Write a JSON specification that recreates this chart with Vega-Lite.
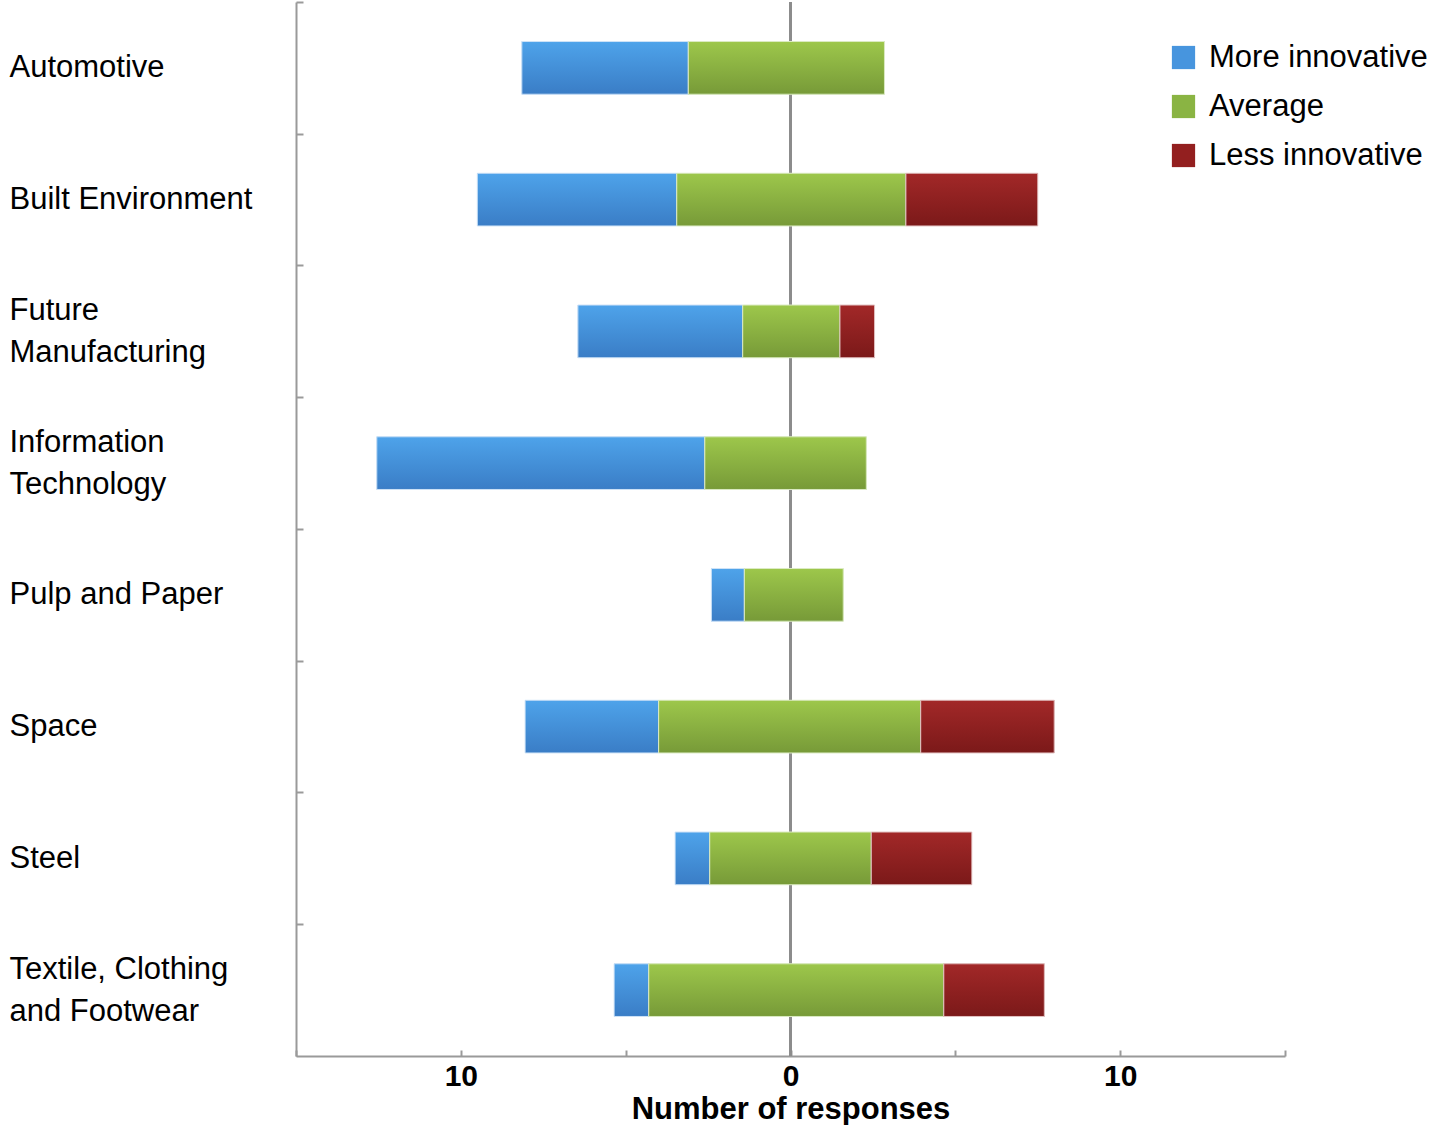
{
  "$schema": "https://vega.github.io/schema/vega-lite/v6.json",
  "autosize": {"type": "none"},
  "padding": {"left": 296, "top": 2, "right": 146, "bottom": 69},
  "width": 989,
  "height": 1054,
  "background": "white",
  "config": {
    "view": {"stroke": null},
    "font": "Liberation Sans"
  },
  "datasets": {
    "bars": [
      {"sector": "Automotive", "response": "More innovative", "start": -8.15, "end": -3.1},
      {"sector": "Automotive", "response": "Average", "start": -3.1, "end": 2.85},
      {"sector": "Built Environment", "response": "More innovative", "start": -9.5, "end": -3.45},
      {"sector": "Built Environment", "response": "Average", "start": -3.45, "end": 3.5},
      {"sector": "Built Environment", "response": "Less innovative", "start": 3.5, "end": 7.5},
      {"sector": "Future Manufacturing", "response": "More innovative", "start": -6.45, "end": -1.45},
      {"sector": "Future Manufacturing", "response": "Average", "start": -1.45, "end": 1.5},
      {"sector": "Future Manufacturing", "response": "Less innovative", "start": 1.5, "end": 2.55},
      {"sector": "Information Technology", "response": "More innovative", "start": -12.55, "end": -2.6},
      {"sector": "Information Technology", "response": "Average", "start": -2.6, "end": 2.3},
      {"sector": "Pulp and Paper", "response": "More innovative", "start": -2.4, "end": -1.4},
      {"sector": "Pulp and Paper", "response": "Average", "start": -1.4, "end": 1.6},
      {"sector": "Space", "response": "More innovative", "start": -8.05, "end": -4},
      {"sector": "Space", "response": "Average", "start": -4, "end": 3.95},
      {"sector": "Space", "response": "Less innovative", "start": 3.95, "end": 8},
      {"sector": "Steel", "response": "More innovative", "start": -3.5, "end": -2.45},
      {"sector": "Steel", "response": "Average", "start": -2.45, "end": 2.45},
      {"sector": "Steel", "response": "Less innovative", "start": 2.45, "end": 5.5},
      {"sector": "Textile, Clothing and Footwear", "response": "More innovative", "start": -5.35, "end": -4.3},
      {"sector": "Textile, Clothing and Footwear", "response": "Average", "start": -4.3, "end": 4.65},
      {"sector": "Textile, Clothing and Footwear", "response": "Less innovative", "start": 4.65, "end": 7.7}
    ]
  },
  "data": {"name": "bars"},
  "encoding": {
    "y": {
      "field": "sector",
      "type": "nominal",
      "sort": null,
      "scale": {"paddingInner": 0.6, "paddingOuter": 0.3},
      "axis": {
        "title": null,
        "domainColor": "#9a9a9a",
        "domainWidth": 2,
        "tickColor": "#9a9a9a",
        "tickWidth": 2,
        "tickSize": -7,
        "tickOffset": -65.9,
        "labelOffset": {
          "condition": {"test": "datum.value == 'Future Manufacturing' || datum.value == 'Information Technology' || datum.value == 'Textile, Clothing and Footwear'", "value": 44.9},
          "value": 65.9
        },
        "labelAlign": "left",
        "labelBaseline": "middle",
        "labelPadding": 294,
        "labelFontSize": 31,
        "labelColor": "#000000",
        "labelLineHeight": 42,
        "labelLimit": 0,
        "labelExpr": "datum.value == 'Future Manufacturing' ? ['Future', 'Manufacturing'] : datum.value == 'Information Technology' ? ['Information', 'Technology'] : datum.value == 'Textile, Clothing and Footwear' ? ['Textile, Clothing', 'and Footwear'] : datum.value"
      }
    },
    "x": {
      "field": "start",
      "type": "quantitative",
      "scale": {"domain": [-15, 15], "nice": false},
      "axis": {
        "title": "Number of responses",
        "values": [-15, -10, -5, 0, 5, 10, 15],
        "labelExpr": "(datum.value == 0 || abs(datum.value) == 10) ? format(abs(datum.value), 'd') : ''",
        "grid": false,
        "domainColor": "#9a9a9a",
        "domainWidth": 2,
        "tickColor": "#9a9a9a",
        "tickWidth": 2,
        "tickSize": -6,
        "labelPadding": 11,
        "labelFontSize": 30,
        "labelFontWeight": "bold",
        "labelColor": "#000000",
        "titleFontSize": 31,
        "titleFontWeight": "bold",
        "titleColor": "#000000",
        "titlePadding": 3
      }
    },
    "x2": {"field": "end"}
  },
  "layer": [
    {
      "data": {"values": [{"v": 0}]},
      "mark": {"type": "rule", "color": "#8c8c8c", "strokeWidth": 3},
      "encoding": {"x": {"field": "v", "type": "quantitative"}, "y": null, "x2": null}
    },
    {
      "mark": {"type": "bar"},
      "encoding": {
        "color": {
          "field": "response",
          "type": "nominal",
          "scale": {"domain": ["More innovative", "Average", "Less innovative"], "range": ["#4795de", "#8ab443", "#931f1f"]},
          "legend": {
            "title": null,
            "orient": "none",
            "legendX": 872,
            "legendY": 40,
            "symbolType": "square",
            "symbolSize": 540,
            "symbolStrokeWidth": 0,
            "labelFontSize": 31,
            "labelColor": "#000000",
            "labelOffset": 10,
            "rowPadding": 17,
            "labelLimit": 0
          }
        }
      }
    },
    {
      "transform": [{"filter": "datum.response == 'More innovative'"}],
      "mark": {"type": "bar", "stroke": "#cfe3f7", "strokeWidth": 1, "color": {"gradient": "linear", "x1": 0, "y1": 0, "x2": 0, "y2": 1, "stops": [{"offset": 0, "color": "#4ea3ea"}, {"offset": 1, "color": "#3a7dc6"}]}}
    },
    {
      "transform": [{"filter": "datum.response == 'Average'"}],
      "mark": {"type": "bar", "stroke": "#dcebc4", "strokeWidth": 1, "color": {"gradient": "linear", "x1": 0, "y1": 0, "x2": 0, "y2": 1, "stops": [{"offset": 0, "color": "#9dc74b"}, {"offset": 1, "color": "#779a38"}]}}
    },
    {
      "transform": [{"filter": "datum.response == 'Less innovative'"}],
      "mark": {"type": "bar", "stroke": "#e3c4c4", "strokeWidth": 1, "color": {"gradient": "linear", "x1": 0, "y1": 0, "x2": 0, "y2": 1, "stops": [{"offset": 0, "color": "#a22828"}, {"offset": 1, "color": "#7b1919"}]}}
    }
  ]
}
